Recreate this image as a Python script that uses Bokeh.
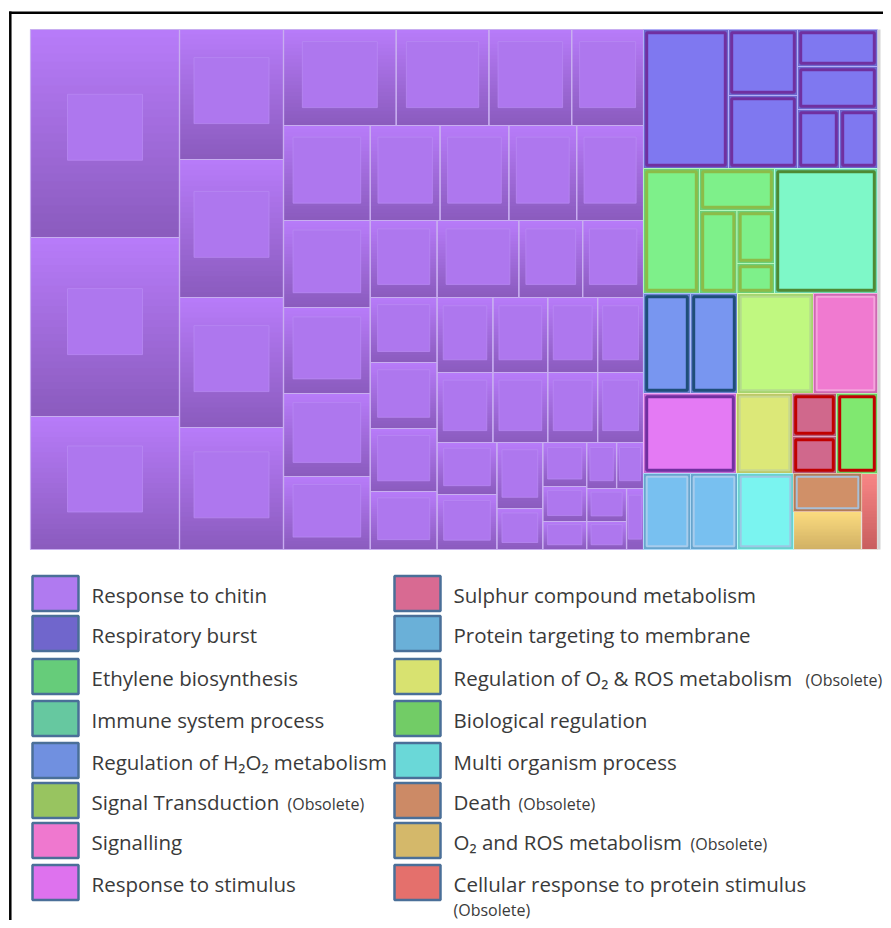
from bokeh.plotting import figure
from bokeh.models import Range1d, ColumnDataSource
from bokeh.embed import file_html
from bokeh.resources import INLINE
from bokeh.core.properties import value

# ---------------- data ----------------
categories = ["Response to chitin", "Respiratory burst", "Ethylene biosynthesis",
              "Immune system process", "Regulation of H\u2082O\u2082 metabolism", "Signal Transduction",
              "Signalling", "Response to stimulus", "Sulphur compound metabolism",
              "Protein targeting to membrane", "Regulation of O\u2082 & ROS metabolism",
              "Biological regulation", "Multi organism process", "Death",
              "O\u2082 and ROS metabolism", "Cellular response to protein stimulus"]
obsolete = [False, False, False, False, False, True, False, False,
            False, False, True, False, False, True, True, True]
legend_colors = ["#b07af0", "#7066cc", "#66cc7a", "#66c8a0", "#7090e0", "#98c460", "#ef78cf", "#de72ee",
                 "#d86a92", "#6ab0d8", "#d8e270", "#72cc66", "#6ad8d8", "#cc8a66", "#d4b86a", "#e4706c"]
legend_left = [0, 1, 2, 3, 4, 5, 6, 7]
legend_right = [8, 9, 10, 11, 12, 13, 14, 15]

# relative cell sizes of the treemap (slice layout): leaf = size or (size, category)
purple_tree = (613, 'h', [
    (149, 'v', [208, 179, 133]),
    (104, 'v', [130, 138, 130, 122]),
    (360, 'v', [
        (96, 'h', [113, 93, 83, 72]),
        (95, 'h', [87, 70, 69, 68, 67]),
        (329, 'h', [
            (87, 'v', [87, 86, 83, 73]),
            (67, 'v', [77, 65, 66, 63, 58]),
            (207, 'v', [
                (77, 'h', [82, 64, 61]),
                (75, 'h', [56, 55, 50, 46]),
                (70, 'h', [56, 55, 50, 46]),
                (107, 'h', [
                    (60, 'v', [52, 55]),
                    (46, 'v', [66, 41]),
                    (44, 'v', [44, 35, 28]),
                    (57, 'v', [(46, 'h', [30, 27]), (61, 'h', [(40, 'v', [33, 28]), 17])]),
                ]),
            ]),
        ]),
    ]),
])
right_tree = (234, 'v', [
    (139, 'h', [(85, 1), (69, 'v', [(66, 1), (73, 1)]),
                (80, 'v', [(37, 1), (43, 1), (59, 'h', [(42, 1), (38, 1)])])]),
    (125, 'h', [(56, 2), (75, 'v', [(42, 2), (83, 'h', [(38, 2), (38, 'v', [(53, 2), (30, 2)])])]), (103, 3)]),
    (100, 'h', [(47, 4), (47, 4), (76, 5), (64, 6)]),
    (80, 'h', [(93, 7), (56, 10), (44, 'v', [(43, 8), (37, 8)]), (41, 11)]),
    (76, 'h', [(47, 9), (47, 9), (56, 12), (68, 'v', [(38, 13), (38, 14)]), (16, 15)]),
])
treemap = (1, 'h', [purple_tree, right_tree])

# ---------------- styles ----------------
cell_colors = ["#b47af6", "#7f78f0", "#7ef08a", "#7ef8c8", "#7896f0", "#c0f880", "#f07ad0", "#e47af4",
               "#d0688c", "#78c0f0", "#dce878", "#80e870", "#7af4f0", "#d09068", "#f0d078", "#f07878"]
cell_borders = [None, "#7030a0", "#8cbc48", "#4e8a34", "#1f4e79", "#b4dc8c", "#f4a4dc", "#7030a0",
                "#c00000", "#a8ccec", "#c8d890", "#c00000", "#9cc8e4", "#a8c0d8", None, None]
border_widths = [0, 3, 3, 3, 3, 2, 2, 3, 3, 2, 2, 3, 2, 2, 0, 0]
gradients = {0: ("#b87cfa", "#8a5bbd"), 14: ("#fcdc80", "#d0b064"), 15: ("#f88686", "#c85e5e")}

W, H = 883, 920
TM = (30, 29, 877, 549)  # treemap box (layout)


def size_of(n):
    return n if isinstance(n, (int, float)) else n[0]


def layout(node, x0, y0, x1, y1, cat, out):
    if isinstance(node, (int, float)):
        out.append((x0, y0, x1, y1, cat))
        return
    if len(node) == 2:
        out.append((x0, y0, x1, y1, node[1]))
        return
    _, d, kids = node
    total = float(sum(size_of(k) for k in kids))
    pos = x0 if d == 'h' else y0
    span = (x1 - x0) if d == 'h' else (y1 - y0)
    for k in kids:
        step = span * size_of(k) / total
        if d == 'h':
            layout(k, pos, y0, pos + step, y1, cat, out)
        else:
            layout(k, x0, pos, x1, pos + step, cat, out)
        pos += step


cells = []
layout(treemap, TM[0], TM[1], TM[2], TM[3], 0, cells)


def hex2rgb(h):
    h = h.lstrip('#')
    return tuple(int(h[i:i + 2], 16) for i in (0, 2, 4))


def rgb2hex(c):
    return "#%02x%02x%02x" % tuple(max(0, min(255, int(round(v)))) for v in c)


def mix(a, b, t):
    a, b = hex2rgb(a), hex2rgb(b)
    return rgb2hex([a[i] + (b[i] - a[i]) * t for i in range(3)])


def shade(c, f):
    r = hex2rgb(c)
    return rgb2hex([v * f for v in r])


p = figure(width=W, height=H, output_backend="svg", toolbar_location=None,
           x_range=Range1d(0, W), y_range=Range1d(H, 0),
           x_axis_type=None, y_axis_type=None, min_border=0)
p.grid.visible = False
p.outline_line_color = None
p.background_fill_color = "white"
p.border_fill_color = "white"

band = dict(l=[], r=[], t=[], b=[], c=[])
base = dict(l=[], r=[], t=[], b=[], c=[], lc=[])
box = dict(l=[], r=[], t=[], b=[], c=[], lc=[], lw=[])
inner = dict(l=[], r=[], t=[], b=[])
edge = dict(l=[], r=[], t=[], b=[], lc=[])
NB = 26
for (x0, y0, x1, y1, cat) in cells:
    if cat in gradients:
        top, bot = gradients[cat]
        hh = (y1 - y0) / NB
        for i in range(NB):
            band['l'].append(x0); band['r'].append(x1)
            band['t'].append(y0 + i * hh); band['b'].append(min(y1, y0 + (i + 1) * hh + 0.8))
            band['c'].append(mix(top, bot, (i + 0.5) / NB))
        edge['l'].append(x0); edge['r'].append(x1); edge['t'].append(y0); edge['b'].append(y1)
        edge['lc'].append("#c8aef0" if cat == 0 else "#e8e0d8")
        if cat == 0:
            w, h = x1 - x0, y1 - y0
            iw, ih = min(75, 0.78 * w), min(66, 0.72 * h)
            cx, cy = (x0 + x1) / 2, y0 + 0.47 * h
            inner['l'].append(cx - iw / 2); inner['r'].append(cx + iw / 2)
            inner['t'].append(cy - ih / 2); inner['b'].append(cy + ih / 2)
    else:
        col = cell_colors[cat]
        base['l'].append(x0); base['r'].append(x1); base['t'].append(y0); base['b'].append(y1)
        base['c'].append(shade(col, 0.86)); base['lc'].append(mix(col, "#ffffff", 0.4))
        ins = 3.2
        box['l'].append(x0 + ins); box['r'].append(x1 - ins)
        box['t'].append(y0 + ins); box['b'].append(y1 - ins)
        box['c'].append(col); box['lc'].append(cell_borders[cat]); box['lw'].append(border_widths[cat])

p.quad(left='l', right='r', top='t', bottom='b', source=ColumnDataSource(band),
       fill_color='c', line_color=None)
p.quad(left='l', right='r', top='t', bottom='b', source=ColumnDataSource(inner),
       fill_color="#ae77ee", line_color="#b98cf4", line_width=1, line_alpha=0.7)
p.quad(left='l', right='r', top='t', bottom='b', source=ColumnDataSource(edge),
       fill_alpha=0, line_color='lc', line_width=1.2)
p.quad(left='l', right='r', top='t', bottom='b', source=ColumnDataSource(base),
       fill_color='c', line_color='lc', line_width=1)
p.quad(left='l', right='r', top='t', bottom='b', source=ColumnDataSource(box),
       fill_color='c', line_color='lc', line_width='lw')

# right edge shading of the treemap
p.segment(x0=[TM[2] + 1.5], y0=[TM[1]], x1=[TM[2] + 1.5], y1=[TM[3]], line_color="#d4d4d4", line_width=3)

# frame
p.line(x=[9.8, 9.8], y=[11, H], line_color="black", line_width=2.5)
p.line(x=[8.6, W], y=[12.2, 12.2], line_color="black", line_width=2.5)

# ---------------- legend ----------------
row_centers = [593, 633, 676, 718, 760, 800, 840, 882]
col_swatch_x = [(32, 78), (394, 440)]
col_text_x = [91, 453]
obs_x = {5: 287, 10: 805, 13: 518, 14: 690}

sw = dict(l=[], r=[], t=[], b=[], c=[])
tx = dict(x=[], y=[], t=[])
ox = dict(x=[], y=[], t=[])
for ci, idxs in enumerate([legend_left, legend_right]):
    for ri, k in enumerate(idxs):
        cy = row_centers[ri]
        sw['l'].append(col_swatch_x[ci][0]); sw['r'].append(col_swatch_x[ci][1])
        sw['t'].append(cy - 17.5); sw['b'].append(cy + 17.5); sw['c'].append(legend_colors[k])
        tx['x'].append(col_text_x[ci]); tx['y'].append(cy + 1); tx['t'].append(categories[k])
        if obsolete[k]:
            if k in obs_x:
                ox['x'].append(obs_x[k]); ox['y'].append(cy + 3)
            else:
                ox['x'].append(col_text_x[ci]); ox['y'].append(cy + 27)
            ox['t'].append("(Obsolete)")

p.quad(left='l', right='r', top='t', bottom='b', source=ColumnDataSource(sw),
       fill_color='c', line_color="#4a6f98", line_width=2.5)
p.text(x='x', y='y', text='t', source=ColumnDataSource(tx), text_font=value("Open Sans"),
       text_font_size="20.5px", text_color="#3a3a3a", text_baseline="middle", text_align="left")
p.text(x='x', y='y', text='t', source=ColumnDataSource(ox), text_font=value("Open Sans"),
       text_font_size="16px", text_color="#3a3a3a", text_baseline="middle", text_align="left")

open("out.html", "w").write(file_html(p, INLINE))
